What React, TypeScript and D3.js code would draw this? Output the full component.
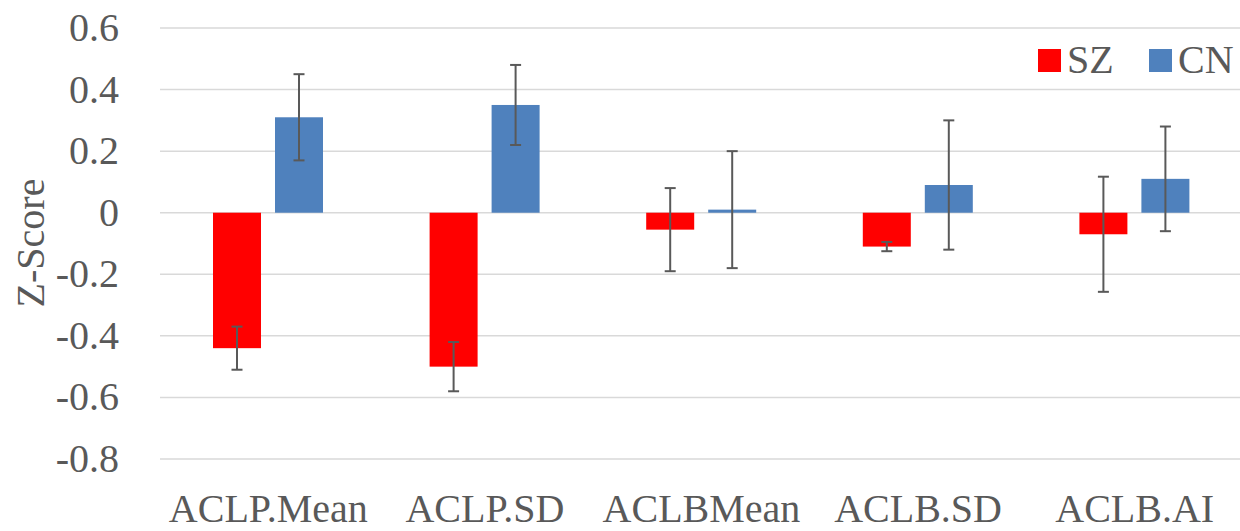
import React from 'react';
import * as d3 from 'd3';

const categories = ['ACLP.Mean', 'ACLP.SD', 'ACLBMean', 'ACLB.SD', 'ACLB.AI'];
const series = ['SZ', 'CN'];
const colors = ['#ff0000', '#4f81bd'];
const szValues = [-0.44, -0.5, -0.055, -0.11, -0.07];
const szErrors = [0.07, 0.08, 0.135, 0.015, 0.187];
const cnValues = [0.31, 0.35, 0.01, 0.09, 0.11];
const cnErrors = [0.14, 0.13, 0.19, 0.21, 0.17];
const yTicks = [0.6, 0.4, 0.2, 0, -0.2, -0.4, -0.6, -0.8];

const width = 1240, height = 531;
const font = '"Liberation Serif", "Times New Roman", serif';
const textColor = '#595959';

// excel style tick text: plain hyphen for negatives
const fmt = (t: number) => d3.format('')(t).replace('\u2212', '-');

export default function App() {
  const y = d3.scaleLinear().domain([-0.8, 0.6]).range([459, 28]);
  const x0 = d3.scaleBand().domain(categories).range([160, 1243]);
  const x1 = d3.scaleBand().domain(series).range([53, 163]).paddingInner(14 / 62);

  const rows = [szValues, cnValues];
  const errs = [szErrors, cnErrors];

  return (
    <svg width={width} height={height} style={{ position: 'absolute', left: 0, top: 0, background: '#fff' }}>
      {/* gridlines */}
      {yTicks.map(t => (
        <line key={t} x1={160} x2={1243} y1={y(t)} y2={y(t)} stroke="#d9d9d9" strokeWidth={1.5} />
      ))}
      {yTicks.map(t => (
        <text key={'l' + t} x={119} y={y(t) + 13} textAnchor="end" fontFamily={font} fontSize={40} fill={textColor}>
          {fmt(t)}
        </text>
      ))}
      <text transform={`translate(44,243) rotate(-90)`} textAnchor="middle" fontFamily={font} fontSize={40} fill={textColor}>
        Z-Score
      </text>

      {/* bars */}
      {series.map((s, si) =>
        categories.map((c, ci) => {
          const v = rows[si][ci];
          const bx = x0(c)! + x1(s)!;
          return (
            <rect key={s + c} x={bx} width={x1.bandwidth()}
              y={y(Math.max(0, v))} height={Math.max(2, Math.abs(y(v) - y(0)))}
              fill={colors[si]} />
          );
        })
      )}

      {/* error bars */}
      {series.map((s, si) =>
        categories.map((c, ci) => {
          const v = rows[si][ci], e = errs[si][ci];
          const cx = x0(c)! + x1(s)! + x1.bandwidth() / 2;
          return (
            <g key={'e' + s + c} stroke="#595959" strokeWidth={2}>
              <line x1={cx} x2={cx} y1={y(v + e)} y2={y(v - e)} />
              <line x1={cx - 5.5} x2={cx + 5.5} y1={y(v + e)} y2={y(v + e)} />
              <line x1={cx - 5.5} x2={cx + 5.5} y1={y(v - e)} y2={y(v - e)} />
            </g>
          );
        })
      )}

      {/* x labels */}
      {categories.map(c => (
        <text key={'x' + c} x={x0(c)! + x0.bandwidth() / 2} y={522} textAnchor="middle"
          fontFamily={font} fontSize={40} fill={textColor}>
          {c}
        </text>
      ))}

      {/* legend */}
      {series.map((s, si) => {
        const lx = [1038, 1149][si];
        return (
          <g key={'lg' + s}>
            <rect x={lx} y={49} width={23} height={23} fill={colors[si]} />
            <text x={lx + 29} y={73} fontFamily={font} fontSize={40} fill={textColor}>{s}</text>
          </g>
        );
      })}
    </svg>
  );
}
